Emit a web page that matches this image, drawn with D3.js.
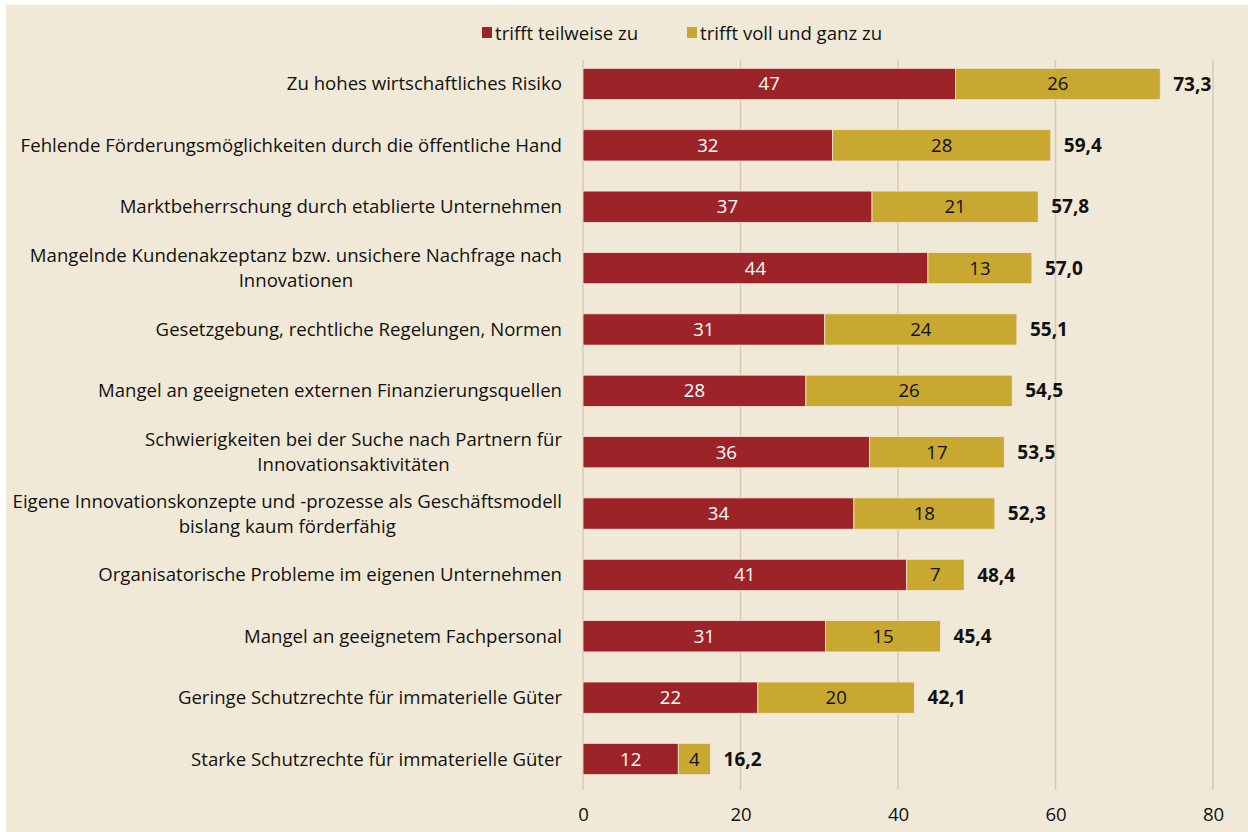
<!DOCTYPE html>
<html><head><meta charset="utf-8">
<script src="https://cdn.jsdelivr.net/npm/d3@7"></script>
<style>
html,body{margin:0;padding:0;background:#fff;}
svg{display:block;}
text{font-family:"Open Sans",sans-serif;}
</style></head>
<body>
<svg id="c" width="1248" height="832"></svg>
<script>
const categories = [
  ["Zu hohes wirtschaftliches Risiko"],
  ["Fehlende Förderungsmöglichkeiten durch die öffentliche Hand"],
  ["Marktbeherrschung durch etablierte Unternehmen"],
  ["Mangelnde Kundenakzeptanz bzw. unsichere Nachfrage nach", "Innovationen"],
  ["Gesetzgebung, rechtliche Regelungen, Normen"],
  ["Mangel an geeigneten externen Finanzierungsquellen"],
  ["Schwierigkeiten bei der Suche nach Partnern für", "Innovationsaktivitäten"],
  ["Eigene Innovationskonzepte und -prozesse als Geschäftsmodell", "bislang kaum förderfähig"],
  ["Organisatorische Probleme im eigenen Unternehmen"],
  ["Mangel an geeignetem Fachpersonal"],
  ["Geringe Schutzrechte für immaterielle Güter"],
  ["Starke Schutzrechte für immaterielle Güter"]
];
const teilweise = [47.3, 31.7, 36.7, 43.8, 30.7, 28.3, 36.4, 34.4, 41.1, 30.8, 22.2, 12.1];
const vollGanz  = [26.0, 27.7, 21.1, 13.2, 24.4, 26.2, 17.1, 17.9, 7.3, 14.6, 19.9, 4.1];
const totals    = [73.3, 59.4, 57.8, 57.0, 55.1, 54.5, 53.5, 52.3, 48.4, 45.4, 42.1, 16.2];
const seriesNames = ["trifft teilweise zu", "trifft voll und ganz zu"];
const xTicks = [0, 20, 40, 60, 80];

const colors = ["#9C2327", "#C8A830"];
const svg = d3.select("#c");
const fs = 18.6;

// background panel
svg.append("rect").attr("x", 6).attr("y", 5).attr("width", 1242).attr("height", 827).attr("fill", "#F1E9D7");

const x = d3.scaleLinear().domain([0, 80]).range([583, 1213]);
const y = d3.scaleBand().domain(d3.range(categories.length)).range([53, 790]).paddingInner(0.49).paddingOuter(0.25);

// gridlines
svg.append("g").selectAll("line").data(xTicks).join("line")
  .attr("x1", d => x(d)).attr("x2", d => x(d))
  .attr("y1", 60).attr("y2", 790)
  .attr("stroke", "#D5CBAE").attr("stroke-width", 1.5);

// axis labels
const axis = d3.axisBottom(x).tickValues(xTicks).tickSize(0).tickPadding(0);
const ag = svg.append("g").attr("transform", "translate(0,808)").call(axis);
ag.select(".domain").remove();
ag.selectAll("text").attr("font-size", fs).attr("fill", "#111").attr("font-family", '"Open Sans",sans-serif');

// bars
const rows = categories.map((c, i) => ({i, a: teilweise[i], b: vollGanz[i], t: totals[i]}));
const g = svg.append("g");
g.selectAll("rect.a").data(rows).join("rect").attr("class", "a")
  .attr("x", x(0)).attr("y", d => y(d.i)).attr("width", d => x(d.a) - x(0)).attr("height", y.bandwidth())
  .attr("fill", colors[0]).attr("stroke", "#F3E6DA").attr("stroke-width", 0.8);
g.selectAll("rect.b").data(rows).join("rect").attr("class", "b")
  .attr("x", d => x(d.a)).attr("y", d => y(d.i)).attr("width", d => x(d.a + d.b) - x(d.a)).attr("height", y.bandwidth())
  .attr("fill", colors[1]).attr("stroke", "#F3E6DA").attr("stroke-width", 0.8);

g.selectAll("text.la").data(rows).join("text").attr("class", "la")
  .attr("x", d => (x(0) + x(d.a)) / 2).attr("y", d => y(d.i) + y.bandwidth() / 2)
  .attr("dy", "0.35em").attr("text-anchor", "middle").attr("font-size", fs).attr("fill", "#fff")
  .text(d => Math.round(d.a));
g.selectAll("text.lb").data(rows).join("text").attr("class", "lb")
  .attr("x", d => (x(d.a) + x(d.a + d.b)) / 2).attr("y", d => y(d.i) + y.bandwidth() / 2)
  .attr("dy", "0.35em").attr("text-anchor", "middle").attr("font-size", fs).attr("fill", "#111")
  .text(d => Math.round(d.b));
g.selectAll("text.lt").data(rows).join("text").attr("class", "lt")
  .attr("x", d => x(d.a + d.b) + 13).attr("y", d => y(d.i) + y.bandwidth() / 2)
  .attr("dy", "0.35em").attr("font-size", 19).attr("font-weight", "bold").attr("fill", "#111")
  .text(d => d.t.toFixed(1).replace(".", ","));

// category labels (multi-line centered block, right aligned)
const labelRight = 562;
const lh = 25;
categories.forEach((lines, i) => {
  const cy = y(i) + y.bandwidth() / 2;
  const tg = svg.append("g");
  const texts = lines.map((ln, k) => tg.append("text")
    .attr("font-size", fs).attr("fill", "#111")
    .attr("y", cy + (k - (lines.length - 1) / 2) * lh).attr("dy", "0.35em")
    .text(ln));
  const widths = texts.map(t => t.node().getComputedTextLength());
  const maxW = Math.max(...widths);
  texts.forEach(t => t.attr("text-anchor", "middle").attr("x", labelRight - maxW / 2));
});

// legend
const leg = svg.append("g").attr("transform", "translate(482,33)");
let lx = 0;
seriesNames.forEach((n, i) => {
  leg.append("rect").attr("x", lx).attr("y", -6).attr("width", 10).attr("height", 11).attr("fill", colors[i]);
  leg.append("text").attr("x", lx + 13).attr("y", 0).attr("dy", "0.35em").attr("font-size", fs).attr("fill", "#111").text(n);
  lx = 205;
});
</script>
</body></html>
